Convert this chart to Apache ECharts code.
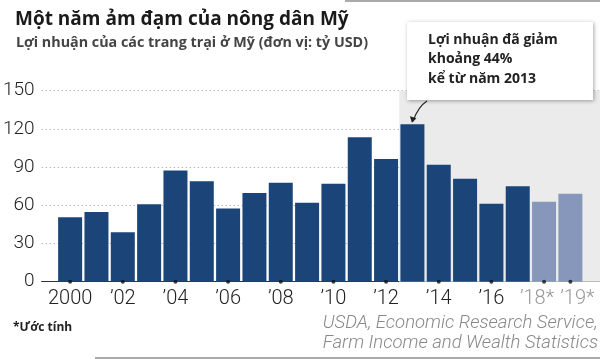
<!DOCTYPE html>
<html><head><meta charset="utf-8">
<script src="https://cdn.jsdelivr.net/npm/echarts@6/dist/echarts.min.js"></script>
<style>html,body{margin:0;padding:0;background:#fff}#c{width:600px;height:359px}</style>
</head><body><div id="c"></div>
<script>
const years = [2000,2001,2002,2003,2004,2005,2006,2007,2008,2009,2010,2011,2012,2013,2014,2015,2016,2017,2018,2019];
const profits = [50.6,54.7,38.8,60.8,87.4,78.8,57.4,69.6,77.8,62.0,77.0,113.4,96.3,123.6,91.9,80.9,61.3,74.9,62.8,69.1];
const estimateYears = [2018,2019];
const tickYears = [2000,2002,2004,2006,2008,2010,2012,2014,2016,2018,2019];
const tickLabels = ['2000','\u201902','\u201904','\u201906','\u201908','\u201910','\u201912','\u201914','\u201916','\u201918*','\u201919*'];
const yTicks = [0,30,60,90,120,150];
const titleText = 'Một năm ảm đạm của nông dân Mỹ';
const subtitleText = 'Lợi nhuận của các trang trại ở Mỹ (đơn vị: tỷ USD)';
const noteLines = ['Lợi nhuận đã giảm','khoảng 44%','kể từ năm 2013'];
const footnote = '*Ước tính';
const sourceLines = ['USDA, Economic Research Service,','Farm Income and Wealth Statistics'];
const highlightFrom = 2013;

const DARK = '#1b4479', LIGHT = '#8797bb';
const chart = echarts.init(document.getElementById('c'), null, {renderer:'canvas'});
const gridLeft = 38, gridRight = 0, gridTop = 90.7, gridBottom = 77.3;
const pxPerYear = 26.5;
const xMin = years[0] - (66.7 - gridLeft) / pxPerYear;
const xMax = xMin + (600 - gridLeft - gridRight) / pxPerYear;
const labelMap = {};
tickYears.forEach((y,i)=>labelMap[y]=tickLabels[i]);

chart.setOption({
  animation:false,
  title:[
    {text:titleText, left:10, top:5, textStyle:{fontFamily:'Open Sans', fontWeight:700, fontSize:19, color:'#1a1a1a'}},
    {text:subtitleText, left:11, top:31, textStyle:{fontFamily:'Open Sans', fontWeight:700, fontSize:14.3, color:'#444'}}
  ],
  grid:{left:gridLeft, right:gridRight, top:gridTop, bottom:gridBottom},
  xAxis:{type:'value', min:xMin, max:xMax,
    axisLine:{show:true, onZero:true, lineStyle:{color:'#333', width:1}},
    axisTick:{show:false},
    splitLine:{show:false},
    axisLabel:{customValues:tickYears, margin:7, hideOverlap:false, showMinLabel:true, showMaxLabel:true,
      fontFamily:'Roboto', fontWeight:300, fontSize:20, color:'#222',
      formatter:(v)=>{const t=labelMap[v]; if(t===undefined) return ''; if(v===estimateYears[0]) return '{a|'+t+'}'; if(v===estimateYears[1]) return '{b|'+t+'}'; return t;},
      rich:{a:{fontFamily:'Roboto', fontWeight:300, fontSize:20, color:'#999', padding:[0,14,0,0]},
            b:{fontFamily:'Roboto', fontWeight:300, fontSize:20, color:'#999', padding:[0,0,0,14]}}}
  },
  yAxis:{type:'value', min:0, max:150, interval:30,
    axisLine:{show:false}, axisTick:{show:false},
    axisLabel:{margin:7, fontFamily:'Roboto', fontWeight:300, fontSize:19, color:'#222'},
    splitLine:{show:true, lineStyle:{color:'#bbb', type:[1.5,2.5], width:1}}
  },
  series:[
    {type:'bar', barWidth:24,
      data: years.map((y,i)=>({value:[y, profits[i]], itemStyle:{color: estimateYears.includes(y)?LIGHT:DARK}})),
      markArea:{silent:true, itemStyle:{color:'#ebebeb'}, data:[[{xAxis:highlightFrom-0.5, yAxis:0},{xAxis:xMax, yAxis:155}]]},
      z:2
    },
    {type:'scatter', symbol:'circle', symbolSize:4, itemStyle:{color:'#111'}, clip:false, z:5,
      data: tickYears.map(y=>[y,0])}
  ]
});

// annotation
const tip = chart.convertToPixel({gridIndex:0}, [highlightFrom, profits[years.indexOf(highlightFrom)]]);
chart.setOption({graphic:[
  {type:'rect', shape:{x:407, y:22, width:186, height:78}, style:{fill:'#fff', shadowBlur:4, shadowOffsetX:1, shadowOffsetY:1, shadowColor:'rgba(0,0,0,0.35)'}, z:100},
  {type:'text', left:428, top:30, z:101, style:{text:noteLines.join('\n'), fontFamily:'Open Sans', fontWeight:700, fontSize:14, lineHeight:19.5, fill:'#222'}},
  {type:'bezierCurve', z:101, shape:{x1:427, y1:101, cpx1:419, cpy1:106, cpx2:tip[0]+3, cpy2:tip[1]-10, x2:tip[0]+0.5, y2:tip[1]-3}, style:{stroke:'#222', lineWidth:1.2, fill:null}},
  {type:'polygon', z:101, shape:{points:[[tip[0]-0.5, tip[1]-1.5],[tip[0]-2.5, tip[1]-8],[tip[0]+4, tip[1]-6]]}, style:{fill:'#222'}},
  {type:'text', left:13, top:322, z:101, style:{text:footnote, fontFamily:'Open Sans', fontWeight:700, fontSize:12, fill:'#222'}},
  {type:'text', right:2, top:313, z:101, style:{text:sourceLines.join('\n'), align:'right', fontFamily:'Roboto', fontWeight:300, fontStyle:'italic', fontSize:18.5, lineHeight:20, fill:'#888'}},
  {type:'line', shape:{x1:345, y1:1, x2:600, y2:1}, style:{stroke:'#aaa', lineWidth:2}},
  {type:'line', shape:{x1:95, y1:358, x2:600, y2:358}, style:{stroke:'#aaa', lineWidth:2}}
]});
</script></body></html>
